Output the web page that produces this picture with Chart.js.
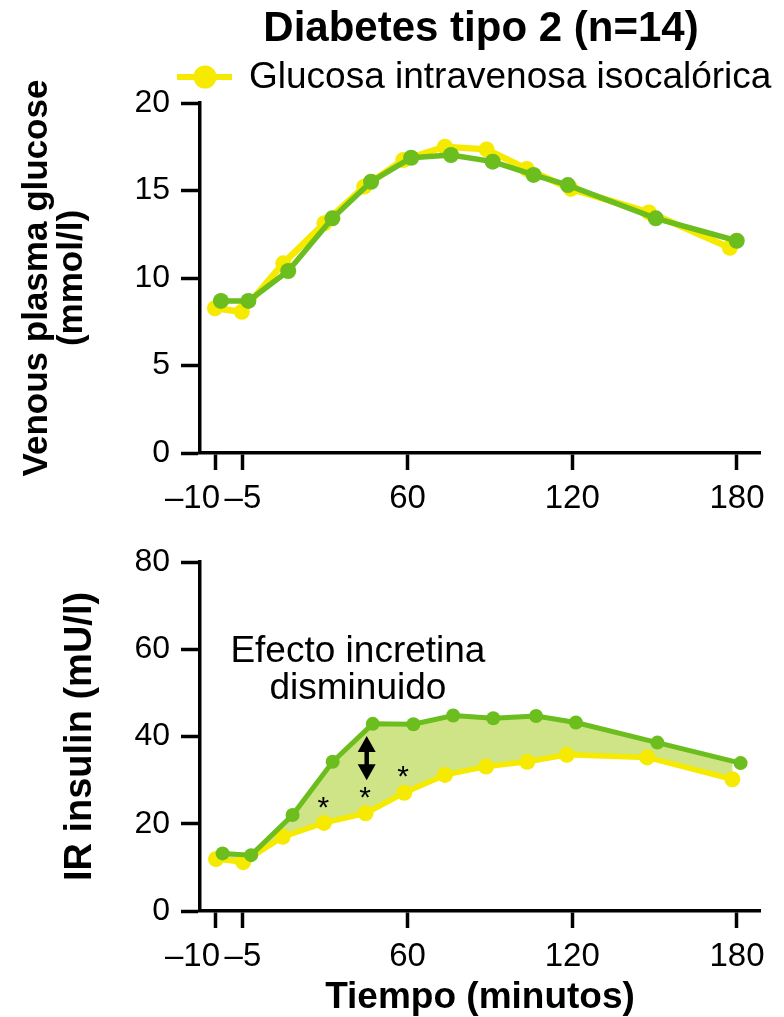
<!DOCTYPE html>
<html>
<head>
<meta charset="utf-8">
<script src="https://cdn.jsdelivr.net/npm/chart.js@4.4.1/dist/chart.umd.min.js"></script>
<style>
  html, body { margin: 0; padding: 0; background: #fff; }
  #wrap { position: relative; width: 784px; height: 1017px; overflow: hidden; }
  canvas { position: absolute; left: 0; }
  #glucosa { top: 0; }
  #insulina { top: 530px; }
</style>
</head>
<body>
<div id="wrap">
  <canvas id="glucosa" width="784" height="530"></canvas>
  <canvas id="insulina" width="784" height="487"></canvas>
</div>
<script>
// Textos
const tituloFigura = 'Diabetes tipo 2 (n=14)';
const nombreIso = 'Glucosa intravenosa isocalórica';
const nombreOral = 'Glucosa oral';
const tituloGlucosa = ['Venous plasma glucose', '(mmol/l)'];
const tituloInsulina = 'IR insulin (mU/l)';
const tituloTiempo = 'Tiempo (minutos)';
const textoEfecto = ['Efecto incretina', 'disminuido'];

// Eje x (minutos) y sus etiquetas
const ticksTiempo = [-10, 0, 60, 120, 180];
const etiquetasTiempo = ['–10', '–5', '60', '120', '180'];

// Panel superior: glucosa plasmatica (mmol/l)
const tiempoGlucosaIso = [-10.2, -0.4, 14.7, 29.7, 44.2, 58.4, 73.6, 88.8, 103.4, 119.5, 147.9, 177.4];
const glucosaIso = [8.27, 8.07, 10.84, 13.13, 15.22, 16.74, 17.5, 17.35, 16.23, 15.09, 13.75, 11.73];
const tiempoGlucosaOral = [-8.0, 2.0, 16.5, 32.6, 46.7, 61.3, 75.8, 91.0, 105.9, 118.4, 150.4, 179.9];
const glucosaOral = [8.69, 8.69, 10.4, 13.41, 15.5, 16.87, 17.03, 16.65, 15.89, 15.31, 13.41, 12.13];

// Panel inferior: insulina (mU/l)
const tiempoInsulinaIso = [-9.8, 0.1, 14.5, 29.5, 44.7, 58.8, 73.6, 88.6, 103.6, 118.0, 147.3, 178.3];
const insulinaIso = [11.9, 11.2, 17.0, 20.2, 22.4, 27.1, 31.2, 33.1, 34.2, 35.8, 35.2, 30.2];
const tiempoInsulinaOral = [-7.4, 3.0, 18.1, 32.7, 47.3, 62.1, 76.6, 91.2, 106.8, 121.3, 151.0, 181.3];
const insulinaOral = [13.2, 12.8, 22.0, 34.2, 42.9, 42.8, 44.8, 44.2, 44.7, 43.2, 38.6, 33.9];

// Anotaciones (en unidades de los ejes)
const asteriscoTiempo = [29.3, 44.5, 58.4];
const asteriscoValor = [25.4, 27.7, 32.5];
const flecha = { tiempo: 45.1, desde: 30.0, hasta: 40.1 };
const efectoPos = { tiempo: 41.9, valores: [59.4, 50.9] };

const amarillo = 'rgb(245,234,0)';
const verde = 'rgb(108,189,30)';
const relleno = 'rgb(206,228,135)';
const fuente = "'Liberation Sans', Arial, Helvetica, sans-serif";

Chart.defaults.font.family = fuente;
Chart.defaults.color = '#000';

const puntos = (xs, ys) => xs.map((x, i) => ({ x: x, y: ys[i] }));

// titulo y leyenda (solo la serie amarilla aparece en la leyenda)
const encabezado = {
  id: 'encabezado',
  afterDraw(chart) {
    const ctx = chart.ctx;
    ctx.save();
    ctx.fillStyle = '#000';
    ctx.textAlign = 'center';
    ctx.textBaseline = 'middle';
    ctx.font = 'bold 42px ' + fuente;
    ctx.fillText(tituloFigura, 481, 29);

    ctx.strokeStyle = amarillo;
    ctx.lineWidth = 6;
    ctx.beginPath();
    ctx.moveTo(177, 77);
    ctx.lineTo(232, 77);
    ctx.stroke();
    ctx.fillStyle = amarillo;
    ctx.beginPath();
    ctx.arc(205, 77, 11.5, 0, Math.PI * 2);
    ctx.fill();

    ctx.fillStyle = '#000';
    ctx.textAlign = 'left';
    ctx.font = '37px ' + fuente;
    ctx.fillText(chart.data.datasets[0].label, 249, 78);
    ctx.restore();
  }
};

const anotaciones = {
  id: 'anotaciones',
  afterDatasetsDraw(chart) {
    const { ctx, scales: { x, y } } = chart;
    ctx.save();
    ctx.fillStyle = '#000';
    ctx.textAlign = 'center';
    ctx.textBaseline = 'middle';
    ctx.font = '37px ' + fuente;
    textoEfecto.forEach((t, i) => {
      ctx.fillText(t, x.getPixelForValue(efectoPos.tiempo), y.getPixelForValue(efectoPos.valores[i]));
    });

    ctx.font = '30px ' + fuente;
    ctx.textBaseline = 'alphabetic';
    asteriscoTiempo.forEach((t, i) => {
      ctx.fillText('*', x.getPixelForValue(t), y.getPixelForValue(asteriscoValor[i]) + 17);
    });

    // doble flecha
    const fx = x.getPixelForValue(flecha.tiempo);
    const y1 = y.getPixelForValue(flecha.hasta);
    const y2 = y.getPixelForValue(flecha.desde);
    const punta = 16, ancho = 9;
    ctx.strokeStyle = '#000';
    ctx.lineWidth = 4.5;
    ctx.beginPath();
    ctx.moveTo(fx, y1 + punta - 2);
    ctx.lineTo(fx, y2 - punta + 2);
    ctx.stroke();
    ctx.beginPath();
    ctx.moveTo(fx, y1);
    ctx.lineTo(fx - ancho, y1 + punta);
    ctx.lineTo(fx + ancho, y1 + punta);
    ctx.closePath();
    ctx.moveTo(fx, y2);
    ctx.lineTo(fx - ancho, y2 - punta);
    ctx.lineTo(fx + ancho, y2 - punta);
    ctx.closePath();
    ctx.fill();
    ctx.restore();
  }
};

function opciones(cfg) {
  return {
    responsive: false,
    animation: false,
    events: [],
    layout: { padding: { top: cfg.arriba, left: 0, right: 24, bottom: 0 } },
    plugins: {
      legend: { display: false },
      title: { display: false },
      tooltip: { enabled: false },
      filler: { drawTime: 'beforeDatasetsDraw' }
    },
    scales: {
      x: {
        type: 'linear',
        min: -15.63,
        max: 188.38,
        afterFit: (s) => { s.height = cfg.altoX; },
        afterBuildTicks: (s) => { s.ticks = ticksTiempo.map((v) => ({ value: v })); },
        ticks: {
          autoSkip: false,
          maxRotation: 0,
          padding: 9,
          font: { size: 33 },
          color: '#000',
          callback: (v, i) => (i === 0 ? etiquetasTiempo[i] + '     ' : etiquetasTiempo[i])
        },
        grid: { drawOnChartArea: false, tickLength: 17, tickWidth: 3.5, tickColor: '#000', color: '#000' },
        border: { display: true, color: '#000', width: 3.5 },
        title: cfg.tituloX ? {
          display: true,
          text: cfg.tituloX,
          font: { size: 37, weight: 'bold', lineHeight: 1 },
          padding: { top: 0, bottom: 1 },
          color: '#000'
        } : { display: false }
      },
      y: {
        min: 0,
        max: cfg.maxY,
        afterFit: (s) => { s.width = 200; },
        ticks: { stepSize: cfg.pasoY, padding: 11, font: { size: 32 }, color: '#000' },
        grid: { drawOnChartArea: false, tickLength: 19, tickWidth: 3.5, tickColor: '#000', color: '#000' },
        border: { display: true, color: '#000', width: 3.5 },
        title: {
          display: true,
          text: cfg.tituloY,
          font: { size: cfg.tamTituloY, weight: 'bold', lineHeight: cfg.lineaTituloY },
          padding: { top: cfg.padTituloY, bottom: 0 },
          color: '#000'
        }
      }
    }
  };
}

new Chart(document.getElementById('glucosa'), {
  type: 'line',
  data: {
    datasets: [
      {
        label: nombreIso,
        data: puntos(tiempoGlucosaIso, glucosaIso),
        borderColor: amarillo,
        backgroundColor: amarillo,
        borderWidth: 6.5,
        pointRadius: 8,
        pointBorderWidth: 0,
        pointBackgroundColor: amarillo,
        order: 1
      },
      {
        label: nombreOral,
        data: puntos(tiempoGlucosaOral, glucosaOral),
        borderColor: verde,
        backgroundColor: verde,
        borderWidth: 5.5,
        pointRadius: 8,
        pointBorderWidth: 0,
        pointBackgroundColor: verde,
        order: 0
      }
    ]
  },
  options: opciones({
    arriba: 103, altoX: 77, maxY: 20, pasoY: 5,
    tituloY: tituloGlucosa, tamTituloY: 35, lineaTituloY: 1.0, padTituloY: 20
  }),
  plugins: [encabezado]
});

new Chart(document.getElementById('insulina'), {
  type: 'line',
  data: {
    datasets: [
      {
        label: nombreIso,
        data: puntos(tiempoInsulinaIso, insulinaIso),
        borderColor: amarillo,
        backgroundColor: amarillo,
        borderWidth: 5.5,
        pointRadius: 8,
        pointBorderWidth: 0,
        pointBackgroundColor: amarillo,
        order: 1
      },
      {
        label: nombreOral,
        data: puntos(tiempoInsulinaOral, insulinaOral),
        borderColor: verde,
        backgroundColor: relleno,
        borderWidth: 5,
        pointRadius: 7,
        pointBorderWidth: 0,
        pointBackgroundColor: verde,
        fill: { target: 0 },
        order: 0
      }
    ]
  },
  options: opciones({
    arriba: 32, altoX: 106, maxY: 80, pasoY: 20,
    tituloY: tituloInsulina, tamTituloY: 38, lineaTituloY: 1.2, padTituloY: 58,
    tituloX: tituloTiempo
  }),
  plugins: [anotaciones]
});
</script>
</body>
</html>
